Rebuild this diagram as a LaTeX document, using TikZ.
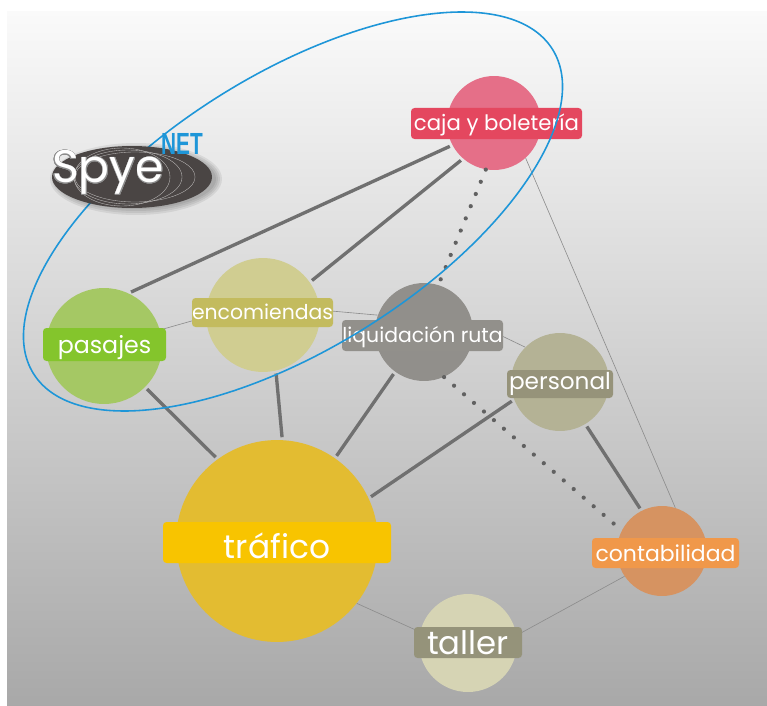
\documentclass[tikz,border=0pt]{standalone}
\usepackage{fontspec}
\usepackage{contour}
\setmainfont{Poppins}
\newfontfamily\netfont[FakeStretch=0.68]{Liberation Sans}
\usetikzlibrary{positioning,shapes.geometric}
\definecolor{cajafill}{HTML}{E56F88}
\definecolor{cajapill}{HTML}{E4475F}
\definecolor{pasajesfill}{HTML}{A5C864}
\definecolor{pasajespill}{HTML}{84C52C}
\definecolor{encofill}{HTML}{D0CD91}
\definecolor{encopill}{HTML}{C3BB5E}
\definecolor{liquifill}{HTML}{918F8B}
\definecolor{liquipill}{HTML}{92908B}
\definecolor{persofill}{HTML}{B4B295}
\definecolor{persopill}{HTML}{96937A}
\definecolor{traffill}{HTML}{E3BC31}
\definecolor{trafpill}{HTML}{F8C400}
\definecolor{contafill}{HTML}{D69361}
\definecolor{contapill}{HTML}{F0984A}
\definecolor{tallerfill}{HTML}{D6D4B4}
\definecolor{tallerpill}{HTML}{95937A}
\definecolor{logoblue}{HTML}{1E96D8}
\definecolor{logodark}{HTML}{4A4544}

\begin{document}
\begin{tikzpicture}[%
    x=0.02cm,
    y=-0.02cm,
    bubble/.style={%
      circle,
      inner sep=0pt,
      minimum size=#1*0.04cm
    },
    pill/.style n args={4}{%
      rectangle,
      rounded corners=2pt,
      inner sep=0pt,
      text=white,
      fill=#1,
      minimum width=#2*0.02cm,
      minimum height=#3*0.02cm,
      text depth=0pt,
      font=\fontsize{#4}{#4}\selectfont
    },
    heavy/.style={%
      draw=black!56,
      line width=1.9pt,
      shorten >=1.5pt,
      shorten <=1.5pt
    },
    faint/.style={%
      draw=black!45,
      line width=0.35pt
    },
    dots/.style={%
      draw=black!62,
      line width=2.4pt,
      line cap=round,
      dash pattern=on 0pt off 7.5pt
    }
  ]
    \useasboundingbox (0,0) rectangle (767,706);
    \shade[top color=black!2,middle color=black!14,bottom color=black!34] (7,12) rectangle (767,706);

    \node[bubble=47,fill=cajafill]     (caja)     at (494,123) {};
    \node[bubble=58,fill=pasajesfill]  (pasajes)  at (104,346) {};
    \node[bubble=57,fill=encofill]     (enco)     at (263,315) {};
    \node[bubble=49,fill=liquifill]    (liqui)    at (424,332) {};
    \node[bubble=49,fill=persofill]    (perso)    at (560,382) {};
    \node[bubble=101,fill=traffill]    (traf)     at (277,541) {};
    \node[bubble=45,fill=contafill]    (conta)    at (662,551) {};
    \node[bubble=49,fill=tallerfill]   (taller)   at (468,643) {};

    \path[heavy] (pasajes.65)  edge (caja.208)
                 (enco.35)     edge (caja.229)
                 (pasajes.-45) edge (traf.126)
                 (enco.-77)    edge (traf.87)
                 (liqui.234)   edge (traf.55)
                 (perso.201)   edge (traf.25.6)
                 (perso.-59)   edge (conta.117);
    \path[dots]  (caja.260)    edge (liqui.73)
                 (liqui.-66)   edge (conta.153);
    \path[faint] (pasajes.16)  edge (enco.182)
                 (enco.5)      edge (liqui.160)
                 (liqui.12)    edge (perso.135)
                 (caja.-48)    edge (conta.73)
                 (traf.-38)    edge (taller.167)
                 (taller.9)    edge (conta.214);

    \node[pill={cajapill}{171}{31}{12.1},text height=8.5pt]    (cajatxt)    at (496.5,123.5) {caja y boletería};
    \node[pill={pasajespill}{123}{33}{13.5},text height=10.8pt] (pasajestxt) at (104.5,344.5) {pasajes};
    \node[pill={encopill}{141}{29}{11.6},text height=8.5pt]    (encotxt)    at (262.5,312.5) {encomiendas};
    \node[pill={liquipill}{161}{31}{11.6},text height=7.4pt]   (liquitxt)   at (422.5,335.5) {liquidación ruta};
    \node[pill={persopill}{106}{28}{13.2},text height=6.8pt]   (persotxt)   at (560,384) {personal};
    \node[pill={trafpill}{228}{41}{18.7},text height=18pt]     (traftxt)    at (277,542.5) {tráfico};
    \node[pill={contapill}{147}{30}{12.5},text height=10.2pt]  (contatxt)   at (665.5,553) {contabilidad};
    \node[pill={tallerpill}{108}{31}{18.4},text height=14.2pt] (tallertxt)  at (468,642.5) {taller};

    \node[ellipse,rotate=32,draw=logoblue,line width=0.9pt,inner sep=0pt,minimum width=612*0.02cm,minimum height=274*0.02cm] (grupo) at (293,211.5) {};

    % logo
    \foreach \g in {0,2,...,6}
      \fill[black,opacity=0.07] (136,179) ellipse ({80+\g} and {30+\g});
    \node[ellipse,fill=logodark,inner sep=0pt,minimum width=160*0.02cm,minimum height=62*0.02cm] (logo) at (132,177) {};
    \draw[white!65!logodark,line width=0.2pt] (122,177) ellipse (48 and 29);
    \draw[white!65!logodark,line width=0.2pt] (128,177) ellipse (54 and 27);
    \draw[white!65!logodark,line width=0.2pt] (135,177) ellipse (60 and 25);
    \node[text=white,font=\fontsize{26}{28}\selectfont] (spye) at (108,173) {\contourlength{0.3pt}\contour{black!45}{Spye}};
    \node[text=logoblue,font=\netfont\bfseries\fontsize{17.4}{18}\selectfont] (net) at (182,144) {NET};
\end{tikzpicture}
\end{document}
